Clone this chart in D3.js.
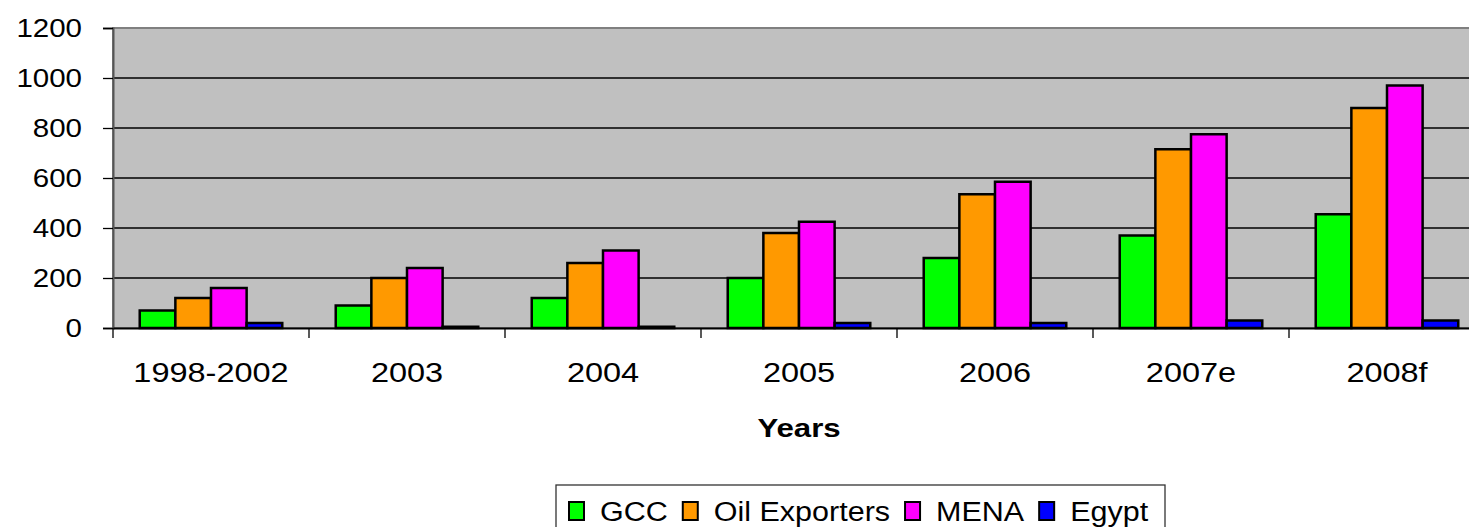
<!DOCTYPE html>
<html>
<head>
<meta charset="utf-8">
<script src="https://cdn.jsdelivr.net/npm/d3@7"></script>
<style>
  body { margin: 0; background: #fff; overflow: hidden; }
  text { font-family: "Liberation Sans", Arial, sans-serif; fill: #000; }
</style>
</head>
<body>
<div id="chart"></div>
<script>
// Data
const categories = ["1998-2002", "2003", "2004", "2005", "2006", "2007e", "2008f"];
const seriesNames = ["GCC", "Oil Exporters", "MENA", "Egypt"];
const gcc = [70, 90, 120, 200, 280, 370, 455];
const oilExporters = [120, 200, 260, 380, 535, 715, 880];
const mena = [160, 240, 310, 425, 585, 775, 970];
const egypt = [20, 5, 5, 20, 20, 30, 30];
const yTicks = [0, 200, 400, 600, 800, 1000, 1200];
const seriesColors = ["#00ff00", "#ff9900", "#ff00ff", "#0000ff"];

const seriesValues = [gcc, oilExporters, mena, egypt];

// Sizes
const WIDTH = 1469;
const HEIGHT = 527;
const plot = { left: 113, top: 28, bottom: 328, right: 1485 };
const SX = 1.18; // text looks stretched sideways in the original

const svg = d3
  .select("#chart")
  .append("svg")
  .attr("width", WIDTH)
  .attr("height", HEIGHT);

// Scales
const x = d3.scaleBand().domain(categories).range([plot.left, plot.right]);
const y = d3.scaleLinear().domain([0, 1200]).range([plot.bottom, plot.top]);
const bw = x.bandwidth() / 5.5;
const xIn = d3
  .scaleBand()
  .domain(seriesNames)
  .range([0.75 * bw, 4.75 * bw]);
const color = d3.scaleOrdinal(seriesNames, seriesColors);

// puts a text at (px, py) stretched horizontally
function placeText(sel, px, py, sx) {
  return sel.attr("transform", "translate(" + px + "," + py + ") scale(" + sx + ",1)");
}

// Plot background
svg
  .append("rect")
  .attr("x", plot.left)
  .attr("y", plot.top)
  .attr("width", plot.right - plot.left)
  .attr("height", plot.bottom - plot.top)
  .attr("fill", "#c0c0c0")
  .attr("stroke", "#808080")
  .attr("stroke-width", 2);

// Gridlines
svg
  .selectAll(".grid")
  .data(yTicks.filter((t) => t > 0 && t < 1200))
  .enter()
  .append("line")
  .attr("class", "grid")
  .attr("x1", plot.left)
  .attr("x2", plot.right)
  .attr("y1", (d) => y(d))
  .attr("y2", (d) => y(d))
  .attr("stroke", "#000")
  .attr("stroke-width", 1.3);

// Bars
const rows = [];
categories.forEach((c, i) => {
  seriesNames.forEach((s, j) => {
    rows.push({ cat: c, series: s, value: seriesValues[j][i] });
  });
});

svg
  .selectAll(".bar")
  .data(rows)
  .enter()
  .append("rect")
  .attr("class", "bar")
  .attr("x", (d) => x(d.cat) + xIn(d.series))
  .attr("y", (d) => y(d.value))
  .attr("width", xIn.bandwidth())
  .attr("height", (d) => y(0) - y(d.value))
  .attr("fill", (d) => color(d.series))
  .attr("stroke", "#000")
  .attr("stroke-width", 2.5);

// Y axis
const yAxis = svg
  .append("g")
  .attr("transform", "translate(" + plot.left + ",0)")
  .call(d3.axisLeft(y).tickValues(yTicks).tickSize(10).tickFormat(""));
yAxis.select(".domain").attr("stroke", "#555").attr("stroke-width", 2);
yAxis.selectAll(".tick line").attr("stroke", "#000").attr("stroke-width", 1.3);

svg
  .selectAll(".ylab")
  .data(yTicks)
  .enter()
  .append("text")
  .attr("class", "ylab")
  .attr("text-anchor", "end")
  .attr("dy", "0.36em")
  .style("font-size", "25px")
  .text((d) => d)
  .each(function (d) {
    placeText(d3.select(this), 82, y(d), SX);
  });

// X axis
const xAxis = svg
  .append("g")
  .attr("transform", "translate(0," + plot.bottom + ")")
  .call(
    d3
      .axisBottom(x)
      .tickValues([])
      .tickSizeOuter(0)
  );
xAxis.select(".domain").attr("stroke", "#000").attr("stroke-width", 2);

svg
  .selectAll(".xtick")
  .data(categories)
  .enter()
  .append("line")
  .attr("class", "xtick")
  .attr("x1", (d) => x(d))
  .attr("x2", (d) => x(d))
  .attr("y1", plot.bottom)
  .attr("y2", plot.bottom + 10)
  .attr("stroke", "#000")
  .attr("stroke-width", 1.3);

svg
  .selectAll(".xlab")
  .data(categories)
  .enter()
  .append("text")
  .attr("class", "xlab")
  .attr("text-anchor", "middle")
  .style("font-size", "28px")
  .text((d) => d)
  .each(function (d) {
    placeText(d3.select(this), x(d) + x.bandwidth() / 2, 382, 1.16);
  });

// Axis title
placeText(
  svg
    .append("text")
    .attr("text-anchor", "middle")
    .style("font-size", "26px")
    .style("font-weight", "bold")
    .text("Years"),
  (plot.left + plot.right) / 2,
  437,
  1.2
);

// Legend
const legend = svg.append("g");
legend
  .append("rect")
  .attr("x", 556)
  .attr("y", 485)
  .attr("width", 609)
  .attr("height", 80)
  .attr("fill", "#fff")
  .attr("stroke", "#333")
  .attr("stroke-width", 1.3);

let lx = 569;
seriesNames.forEach((s) => {
  legend
    .append("rect")
    .attr("x", lx)
    .attr("y", 502)
    .attr("width", 15)
    .attr("height", 18)
    .attr("fill", color(s))
    .attr("stroke", "#000")
    .attr("stroke-width", 2);
  const t = legend
    .append("text")
    .style("font-size", "27px")
    .text(s);
  placeText(t, lx + 31, 521, 1.13);
  lx += 31 + t.node().getComputedTextLength() * 1.13 + 15;
});
</script>
</body>
</html>
